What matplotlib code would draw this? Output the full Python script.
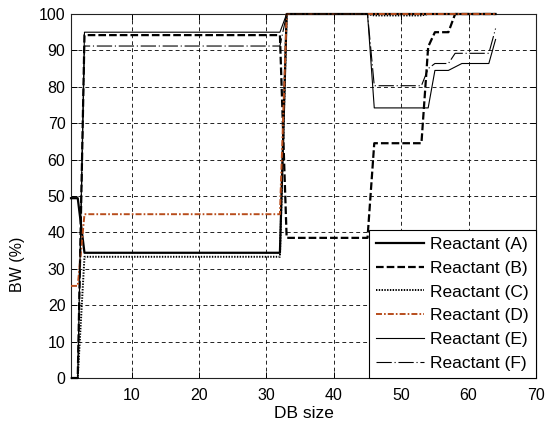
"""BW (%) vs DB size for six reactants."""
import matplotlib
matplotlib.use("Agg")
import matplotlib.pyplot as plt

plt.rcParams["font.family"] = ["Liberation Sans", "DejaVu Sans"]
plt.rcParams["lines.scale_dashes"] = False

# breakpoints (straight segments between them)
a_x = [1, 2, 3, 32, 33, 64]
a_y = [49.4, 49.4, 34.4, 34.4, 100, 100]
b_x = [1, 2, 3, 32, 33, 45, 46, 53, 54, 55, 57, 58, 64]
b_y = [0, 0, 94.2, 94.2, 38.5, 38.5, 64.5, 64.5, 91, 95, 95, 100, 100]
c_x = [1, 2, 3, 32, 33, 45, 46, 53, 54, 64]
c_y = [0, 0, 33.3, 33.3, 100, 100, 99.6, 99.6, 100, 100]
d_x = [1, 2, 3, 32, 33, 64]
d_y = [25.3, 25.3, 45, 45, 100, 100]
e_x = [1, 2, 3, 32, 33, 45, 46, 54, 55, 57, 59, 63, 64]
e_y = [0, 0, 95, 95, 100, 100, 74.2, 74.2, 84.5, 84.5, 86.4, 86.4, 93]
f_x = [1, 2, 3, 32, 33, 45, 46, 53, 54, 55, 57, 58, 63, 64]
f_y = [0, 0, 91.2, 91.2, 100, 100, 80.3, 80.3, 85, 86.4, 86.4, 89.2, 89.2, 96]

labels = ["Reactant (A)", "Reactant (B)", "Reactant (C)",
          "Reactant (D)", "Reactant (E)", "Reactant (F)"]

fig = plt.figure(figsize=(5.45, 4.25), dpi=100)
ax = fig.add_axes([71 / 545, 1 - 378 / 425, 465 / 545, 364 / 425])

kw = dict(clip_on=False, zorder=3)
ax.plot(a_x, a_y, color="black", lw=1.6, ls="-", label=labels[0], **kw)
ax.plot(b_x, b_y, color="black", lw=1.6, ls=(0, (5.5, 2.2)), label=labels[1], **kw)
ax.plot(c_x, c_y, color="black", lw=1.4, ls=(0, (1.0, 1.0)), label=labels[2], **kw)
ax.plot(d_x, d_y, color="#B84D1C", lw=1.4, ls=(0, (4.3, 1.5, 1.2, 1.5)), label=labels[3], **kw)
ax.plot(e_x, e_y, color="black", lw=0.8, ls="-", label=labels[4], **kw)
ax.plot(f_x, f_y, color="black", lw=0.8, ls=(0, (11, 2, 0.8, 2)), label=labels[5], **kw)

ax.set_xlim(1, 70)
ax.set_ylim(0, 100)
ax.set_xticks([10, 20, 30, 40, 50, 60, 70])
ax.set_yticks(range(0, 101, 10))
ax.grid(True, color="black", lw=0.6, ls=(0, (2.8, 2.2)))
ax.tick_params(direction="in", length=4, width=0.7, labelsize=11.5,
               top=True, right=True)
ax.tick_params(axis="x", pad=7)
ax.tick_params(axis="y", pad=4)
for s in ax.spines.values():
    s.set_linewidth(0.8)
    s.set_color("#222222")

ax.set_xlabel("DB size", fontsize=12.5, labelpad=2)
ax.set_ylabel("BW (%)", fontsize=11.5)
ax.yaxis.set_label_coords(-0.098, 0.313)

leg = ax.legend(loc="lower right", bbox_to_anchor=(1, 0), borderaxespad=0,
                fontsize=12.5, fancybox=False, framealpha=1, edgecolor="black",
                handlelength=2.8, handletextpad=0.35, labelspacing=0.5,
                borderpad=0.4)
leg.get_frame().set_linewidth(0.8)
leg.set_zorder(5)

fig.savefig("out.png", dpi=100)
